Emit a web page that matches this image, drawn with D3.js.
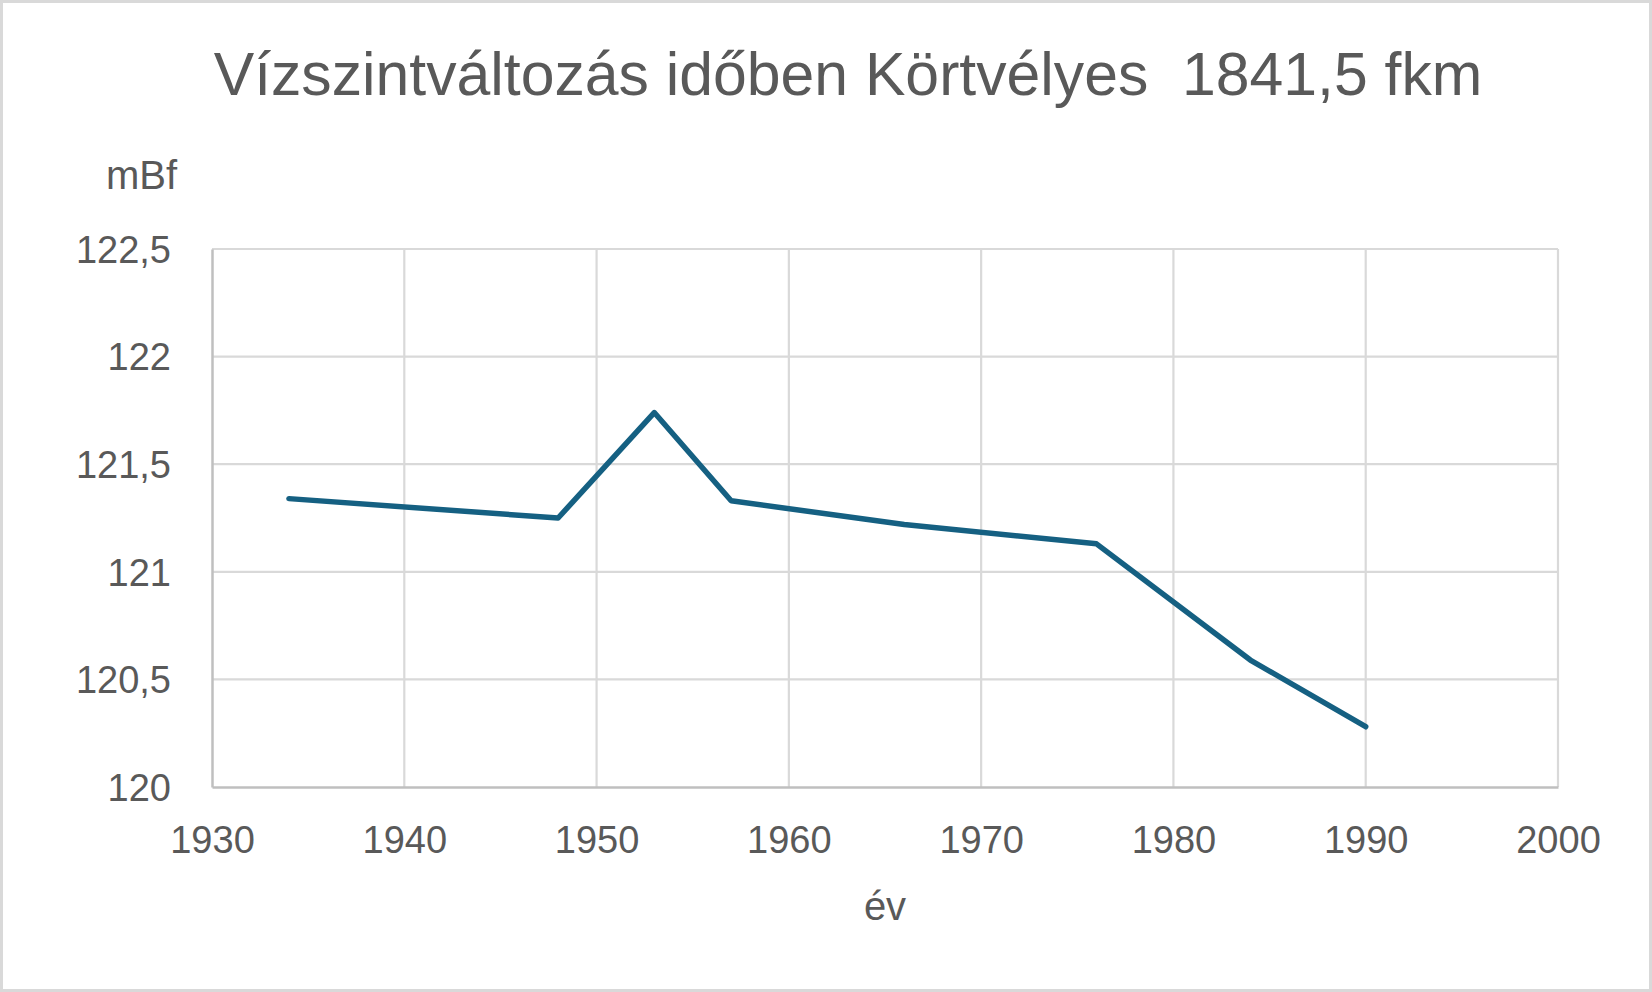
<!DOCTYPE html>
<html>
<head>
<meta charset="utf-8">
<script src="https://cdn.jsdelivr.net/npm/d3@7"></script>
<style>
  body { margin: 0; background: #fff; }
  text { font-family: "Liberation Sans", Arial, sans-serif; fill: #595959; }
</style>
</head>
<body>
<div id="chart"></div>
<script>
// data
const years = [1934, 1948, 1953, 1957, 1966, 1976, 1984, 1990];
const levels = [121.34, 121.25, 121.74, 121.33, 121.22, 121.13, 120.59, 120.28];
const xTicks = [1930, 1940, 1950, 1960, 1970, 1980, 1990, 2000];
const yTicks = [120, 120.5, 121, 121.5, 122, 122.5];

const title = "Vízszintváltozás időben Körtvélyes  1841,5 fkm";
const yLabel = "mBf";
const xLabel = "év";

const width = 1652;
const height = 992;
const plot = { left: 212, right: 1558, top: 249, bottom: 787 };

const huFormat = d3.formatLocale({ decimal: ",", thousands: " ", grouping: [3], currency: ["", " Ft"] });
const fmt = huFormat.format("~g");

const svg = d3.select("#chart")
  .append("svg")
  .attr("width", width)
  .attr("height", height);

svg.append("rect")
  .attr("x", 1.5).attr("y", 1.5)
  .attr("width", width - 3).attr("height", height - 3)
  .attr("fill", "#fff")
  .attr("stroke", "#d9d9d9")
  .attr("stroke-width", 3);

const x = d3.scaleLinear().domain([1930, 2000]).range([plot.left, plot.right]);
const y = d3.scaleLinear().domain([120, 122.5]).range([plot.bottom, plot.top]);

// gridlines
svg.append("g")
  .selectAll("line.h")
  .data(yTicks.filter(d => d !== 120))
  .enter().append("line")
    .attr("x1", plot.left).attr("x2", plot.right)
    .attr("y1", d => y(d)).attr("y2", d => y(d))
    .attr("stroke", "#d9d9d9").attr("stroke-width", 2.2);

svg.append("g")
  .selectAll("line.v")
  .data(xTicks.filter(d => d !== 1930))
  .enter().append("line")
    .attr("x1", d => x(d)).attr("x2", d => x(d))
    .attr("y1", plot.top).attr("y2", plot.bottom)
    .attr("stroke", "#d9d9d9").attr("stroke-width", 2.2);

// axes
const xAxis = svg.append("g")
  .attr("transform", "translate(0," + plot.bottom + ")")
  .call(d3.axisBottom(x).tickValues(xTicks).tickFormat(d3.format("d")).tickSize(0).tickPadding(66));
xAxis.select(".domain").attr("stroke", "#bfbfbf").attr("stroke-width", 2.5);
xAxis.selectAll("text").attr("font-size", 38).attr("fill", "#595959")
  .attr("font-family", "Liberation Sans, Arial, sans-serif").attr("dy", 0);

const yAxis = svg.append("g")
  .attr("transform", "translate(" + plot.left + ",0)")
  .call(d3.axisLeft(y).tickValues(yTicks).tickFormat(fmt).tickSize(0).tickPadding(41));
yAxis.select(".domain").attr("stroke", "#bfbfbf").attr("stroke-width", 2.5);
yAxis.selectAll("text").attr("font-size", 38).attr("fill", "#595959")
  .attr("font-family", "Liberation Sans, Arial, sans-serif").attr("dy", "0.35em");

// line
const line = d3.line()
  .x((d, i) => x(years[i]))
  .y(d => y(d));

svg.append("path")
  .datum(levels)
  .attr("d", line)
  .attr("fill", "none")
  .attr("stroke", "#156082")
  .attr("stroke-width", 5.5)
  .attr("stroke-linejoin", "round")
  .attr("stroke-linecap", "round");

// labels
const t = svg.append("text")
  .attr("x", 848).attr("y", 95)
  .attr("text-anchor", "middle")
  .attr("font-size", 58)
  .style("white-space", "pre")
  .text(title);
// fit title width to the picture
const w = t.node().getComputedTextLength();
t.attr("font-size", 58 * 1269 / w);

svg.append("text")
  .attr("x", 177).attr("y", 189)
  .attr("text-anchor", "end")
  .attr("font-size", 40)
  .text(yLabel);

svg.append("text")
  .attr("x", (plot.left + plot.right) / 2).attr("y", 920)
  .attr("text-anchor", "middle")
  .attr("font-size", 40)
  .text(xLabel);
</script>
</body>
</html>
